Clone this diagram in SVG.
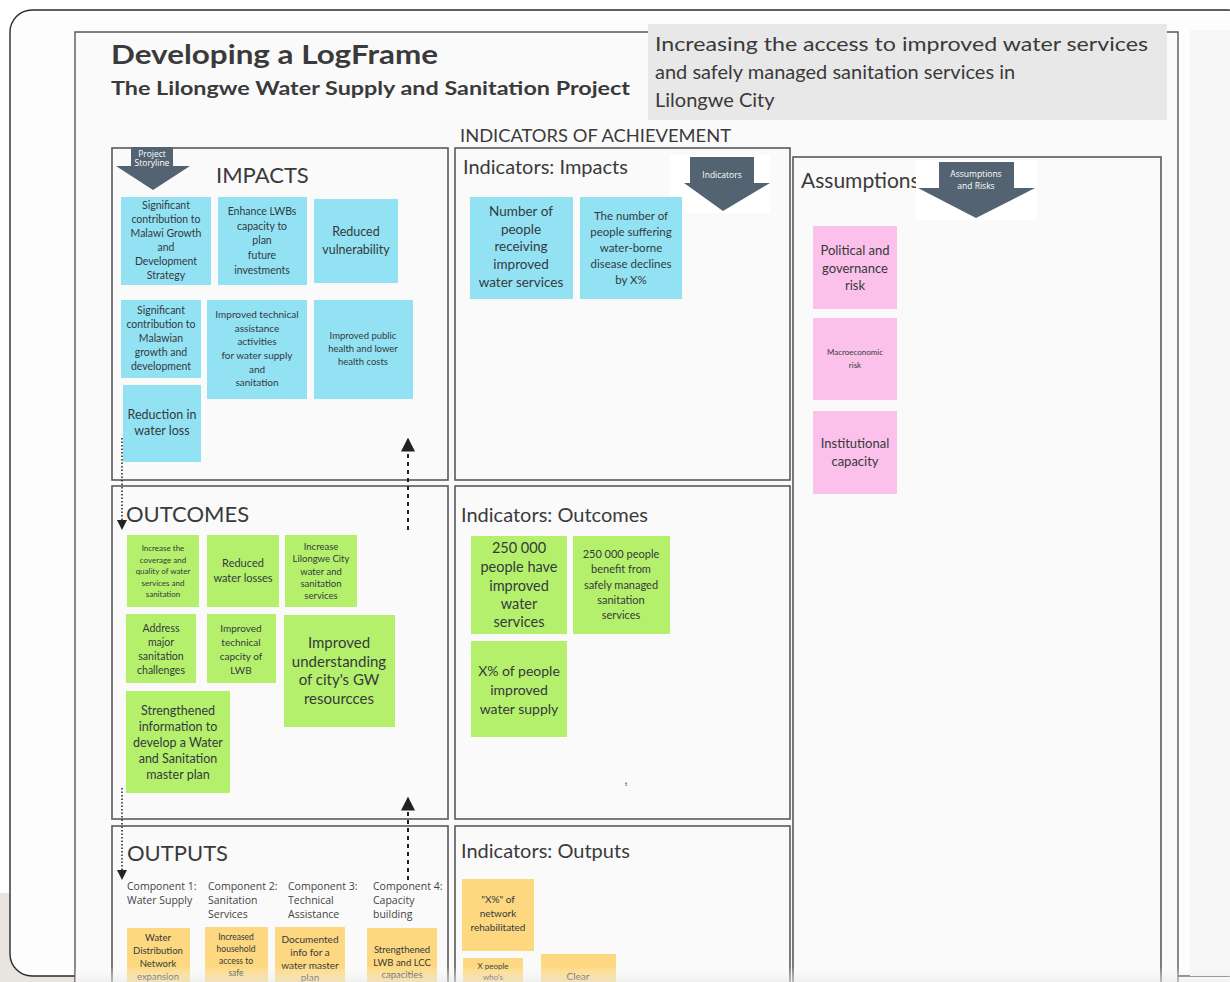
<svg xmlns="http://www.w3.org/2000/svg" width="1230" height="982" viewBox="0 0 1230 982">
  <defs>
    <style>
      .frame { fill: #fafafa; stroke: #5a5a5a; stroke-width: 1.6; }
      .head { font-family: Lato, "Open Sans", "Liberation Sans", sans-serif; fill: #3a3a3a; }
      .sec { font-size: 22px; font-weight: 400; }
      .ind { font-size: 20px; font-weight: 400; }
      .note { font-family: Lato, "Open Sans", "Liberation Sans", sans-serif; fill: #343a3c; text-anchor: middle; }
      .cyan { fill: #92e2f4; }
      .green { fill: #b5f06d; }
      .pink { fill: #fcc1ea; }
      .yellow { fill: #fdd880; }
      .tag { fill: #536371; }
      .tagtxt { font-family: "Open Sans", "Liberation Sans", sans-serif; fill: #ffffff; text-anchor: middle; font-size: 8.5px; }
      .comp { font-family: "Open Sans", "Liberation Sans", sans-serif; fill: #444; font-size: 10.5px; }
      .dot { stroke: #222; stroke-width: 1.5; stroke-dasharray: 1.5 2; fill: none; }
      .dash { stroke: #222; stroke-width: 2; stroke-dasharray: 4 4; fill: none; }
    </style>
    <marker id="head" viewBox="0 0 10 10" refX="9" refY="5" markerWidth="7" markerHeight="7" orient="auto-start-reverse">
      <path d="M0,0 L10,5 L0,10 z" fill="#222"/>
    </marker>
    <linearGradient id="shade" x1="0" y1="0" x2="0" y2="1">
      <stop offset="0" stop-color="#ffffff" stop-opacity="0"/>
      <stop offset="1" stop-color="#e6e6e6"/>
    </linearGradient>
  </defs>

  <!-- page and window -->
  <rect x="0" y="0" width="1230" height="982" fill="#ffffff"/>
  <rect x="0" y="893" width="75" height="89" fill="#e7e5de"/>
  <rect x="10" y="10" width="1240" height="966" rx="22" fill="#fdfdfd" stroke="#2b2b2b" stroke-width="1.4"/>
  <rect x="1190" y="30" width="40" height="946" fill="#f6f6f6"/>

  <!-- slide frame -->
  <rect x="75" y="32" width="1103" height="980" fill="#fafafa"/>
  <path d="M75,1000 V32 H648 M1167,32 H1178 V1000" fill="none" stroke="#555" stroke-width="1.4"/>

  <!-- title block -->
  <g id="title">
    <text x="111" y="64" class="head" font-size="27" font-weight="700" fill="#1e1e1e" textLength="327" lengthAdjust="spacingAndGlyphs">Developing a LogFrame</text>
    <text x="111" y="95" class="head" font-size="19" font-weight="700" fill="#1e1e1e" textLength="519" lengthAdjust="spacingAndGlyphs">The Lilongwe Water Supply and Sanitation Project</text>
  </g>

  <g id="goal">
    <rect x="648" y="24" width="519" height="96" fill="#e8e8e8"/>
    <text class="head" font-size="20" fill="#474747">
      <tspan x="655" y="51" textLength="493" lengthAdjust="spacingAndGlyphs">Increasing the access to improved water services</tspan>
      <tspan x="655" y="79">and safely managed sanitation services in</tspan>
      <tspan x="655" y="107">Lilongwe City</tspan>
    </text>
  </g>

  <text x="460" y="142" class="head" font-size="17" fill="#333" textLength="271" lengthAdjust="spacingAndGlyphs">INDICATORS OF ACHIEVEMENT</text>

  <!-- section frames -->
  <g id="impacts">
    <rect class="frame" x="112" y="148" width="336" height="332"/>
    <path class="tag" d="M131,147 H173 V166 H190 L153,190 L116,166 H131 Z"/>
    <text class="tagtxt" font-size="6"><tspan x="152" y="157">Project</tspan><tspan x="152" y="166">Storyline</tspan></text>
    <text x="216" y="183" class="head sec">IMPACTS</text>
  </g>
  <g id="ind-impacts">
    <rect class="frame" x="455" y="148" width="335" height="332"/>
    <text x="463" y="174" class="head ind">Indicators: Impacts</text>
    <rect x="670" y="155" width="100" height="58" fill="#ffffff"/>
    <path class="tag" d="M690,157 H754 V183 H770 L723,211 L684,183 H690 Z"/>
    <text class="tagtxt" x="722" y="178" font-size="9">Indicators</text>
  </g>
  <g id="assumptions">
    <rect class="frame" x="793" y="157" width="368" height="850"/>
    <text x="801" y="188" class="head" font-size="21">Assumptions</text>
    <rect x="916" y="160" width="121" height="60" fill="#ffffff"/>
    <path class="tag" d="M939,162 H1014 V188 H1035 L976,218 L918,188 H939 Z"/>
    <text class="tagtxt" font-size="9.5"><tspan x="976" y="177">Assumptions</tspan><tspan x="976" y="189">and Risks</tspan></text>
  </g>
  <g id="outcomes">
    <rect class="frame" x="112" y="486" width="336" height="333"/>
    <text x="126" y="522" class="head sec">OUTCOMES</text>
  </g>
  <g id="ind-outcomes">
    <rect class="frame" x="455" y="486" width="335" height="333"/>
    <text x="461" y="522" class="head ind">Indicators: Outcomes</text>
    <text x="626" y="786" class="note" font-size="6" fill="#999">t</text>
  </g>
  <g id="outputs">
    <rect class="frame" x="112" y="826" width="336" height="180"/>
    <text x="127" y="861" class="head sec">OUTPUTS</text>
    <text class="comp"><tspan x="127" y="890">Component 1:</tspan><tspan x="127" y="904">Water Supply</tspan></text>
    <text class="comp"><tspan x="208" y="890">Component 2:</tspan><tspan x="208" y="904">Sanitation</tspan><tspan x="208" y="918">Services</tspan></text>
    <text class="comp"><tspan x="288" y="890">Component 3:</tspan><tspan x="288" y="904">Technical</tspan><tspan x="288" y="918">Assistance</tspan></text>
    <text class="comp"><tspan x="373" y="890">Component 4:</tspan><tspan x="373" y="904">Capacity</tspan><tspan x="373" y="918">building</tspan></text>
  </g>
  <g id="ind-outputs">
    <rect class="frame" x="455" y="826" width="335" height="180"/>
    <text x="461" y="858" class="head ind">Indicators: Outputs</text>
  </g>

  <!-- impact notes -->
  <g id="imp-1"><rect class="cyan" x="121" y="197" width="90" height="88"/>
    <text class="note" font-size="10.5"><tspan x="166" y="209">Significant</tspan><tspan x="166" y="223">contribution to</tspan><tspan x="166" y="237">Malawi Growth</tspan><tspan x="166" y="251">and</tspan><tspan x="166" y="265">Development</tspan><tspan x="166" y="279">Strategy</tspan></text></g>
  <g id="imp-2"><rect class="cyan" x="218" y="197" width="89" height="88"/>
    <text class="note" font-size="10.5"><tspan x="262" y="215">Enhance LWBs</tspan><tspan x="262" y="230">capacity to</tspan><tspan x="262" y="244">plan</tspan><tspan x="262" y="259">future</tspan><tspan x="262" y="274">investments</tspan></text></g>
  <g id="imp-3"><rect class="cyan" x="314" y="199" width="84" height="84"/>
    <text class="note" font-size="12.5"><tspan x="356" y="236">Reduced</tspan><tspan x="356" y="254">vulnerability</tspan></text></g>
  <g id="imp-4"><rect class="cyan" x="121" y="300" width="80" height="78"/>
    <text class="note" font-size="10.5"><tspan x="161" y="314">Significant</tspan><tspan x="161" y="328">contribution to</tspan><tspan x="161" y="342">Malawian</tspan><tspan x="161" y="356">growth and</tspan><tspan x="161" y="370">development</tspan></text></g>
  <g id="imp-5"><rect class="cyan" x="207" y="300" width="100" height="99"/>
    <text class="note" font-size="10"><tspan x="257" y="318">Improved technical</tspan><tspan x="257" y="332">assistance</tspan><tspan x="257" y="345">activities</tspan><tspan x="257" y="359">for water supply</tspan><tspan x="257" y="373">and</tspan><tspan x="257" y="386">sanitation</tspan></text></g>
  <g id="imp-6"><rect class="cyan" x="314" y="300" width="99" height="99"/>
    <text class="note" font-size="9.5"><tspan x="363" y="339">Improved public</tspan><tspan x="363" y="352">health and lower</tspan><tspan x="363" y="365">health costs</tspan></text></g>
  <g id="imp-7"><rect class="cyan" x="123" y="385" width="78" height="77"/>
    <text class="note" font-size="12.5"><tspan x="162" y="419">Reduction in</tspan><tspan x="162" y="435">water loss</tspan></text></g>

  <!-- impact indicator notes -->
  <g id="ii-1"><rect class="cyan" x="470" y="197" width="103" height="102"/>
    <text class="note" font-size="13.5"><tspan x="521" y="216">Number of</tspan><tspan x="521" y="234">people</tspan><tspan x="521" y="251">receiving</tspan><tspan x="521" y="269">improved</tspan><tspan x="521" y="287">water services</tspan></text></g>
  <g id="ii-2"><rect class="cyan" x="580" y="197" width="102" height="102"/>
    <text class="note" font-size="11.5"><tspan x="631" y="220">The number of</tspan><tspan x="631" y="236">people suffering</tspan><tspan x="631" y="252">water-borne</tspan><tspan x="631" y="268">disease declines</tspan><tspan x="631" y="284">by  X%</tspan></text></g>

  <!-- assumption notes -->
  <g id="as-1"><rect class="pink" x="813" y="226" width="84" height="83"/>
    <text class="note" font-size="13" fill="#4a2f44"><tspan x="855" y="255">Political and</tspan><tspan x="855" y="273">governance</tspan><tspan x="855" y="290">risk</tspan></text></g>
  <g id="as-2"><rect class="pink" x="813" y="318" width="84" height="82"/>
    <text class="note" font-size="8" fill="#5a3a52"><tspan x="855" y="355">Macroeconomic</tspan><tspan x="855" y="368">risk</tspan></text></g>
  <g id="as-3"><rect class="pink" x="813" y="411" width="84" height="83"/>
    <text class="note" font-size="13" fill="#4a2f44"><tspan x="855" y="448">Institutional</tspan><tspan x="855" y="466">capacity</tspan></text></g>

  <!-- outcome notes -->
  <g id="out-1"><rect class="green" x="127" y="535" width="72" height="72"/>
    <text class="note" font-size="8" fill="#6d8656"><tspan x="163" y="551">Increase the</tspan><tspan x="163" y="563">coverage and</tspan><tspan x="163" y="574">quality of water</tspan><tspan x="163" y="586">services and</tspan><tspan x="163" y="597">sanitation</tspan></text></g>
  <g id="out-2"><rect class="green" x="207" y="535" width="72" height="72"/>
    <text class="note" font-size="11"><tspan x="243" y="567">Reduced</tspan><tspan x="243" y="582">water losses</tspan></text></g>
  <g id="out-3"><rect class="green" x="285" y="535" width="72" height="72"/>
    <text class="note" font-size="9.5"><tspan x="321" y="550">Increase</tspan><tspan x="321" y="562">Lilongwe City</tspan><tspan x="321" y="575">water and</tspan><tspan x="321" y="587">sanitation</tspan><tspan x="321" y="599">services</tspan></text></g>
  <g id="out-4"><rect class="green" x="126" y="614" width="70" height="69"/>
    <text class="note" font-size="10.5"><tspan x="161" y="632">Address</tspan><tspan x="161" y="646">major</tspan><tspan x="161" y="660">sanitation</tspan><tspan x="161" y="674">challenges</tspan></text></g>
  <g id="out-5"><rect class="green" x="207" y="614" width="69" height="69"/>
    <text class="note" font-size="10"><tspan x="241" y="632">Improved</tspan><tspan x="241" y="646">technical</tspan><tspan x="241" y="660">capcity of</tspan><tspan x="241" y="674">LWB</tspan></text></g>
  <g id="out-6"><rect class="green" x="284" y="615" width="111" height="112"/>
    <text class="note" font-size="15"><tspan x="339" y="648">Improved</tspan><tspan x="339" y="667">understanding</tspan><tspan x="339" y="685">of city's GW</tspan><tspan x="339" y="704">resourcces</tspan></text></g>
  <g id="out-7"><rect class="green" x="126" y="691" width="104" height="102"/>
    <text class="note" font-size="12.5"><tspan x="178" y="715">Strengthened</tspan><tspan x="178" y="731">information to</tspan><tspan x="178" y="747">develop a Water</tspan><tspan x="178" y="763">and Sanitation</tspan><tspan x="178" y="779">master plan</tspan></text></g>

  <!-- outcome indicator notes -->
  <g id="io-1"><rect class="green" x="471" y="536" width="96" height="98"/>
    <text class="note" font-size="14.5"><tspan x="519" y="553">250 000</tspan><tspan x="519" y="572">people have</tspan><tspan x="519" y="591">improved</tspan><tspan x="519" y="609">water</tspan><tspan x="519" y="627">services</tspan></text></g>
  <g id="io-2"><rect class="green" x="573" y="536" width="97" height="98"/>
    <text class="note" font-size="11"><tspan x="621" y="558">250 000 people</tspan><tspan x="621" y="573">benefit from</tspan><tspan x="621" y="589">safely managed</tspan><tspan x="621" y="604">sanitation</tspan><tspan x="621" y="619">services</tspan></text></g>
  <g id="io-3"><rect class="green" x="471" y="641" width="96" height="96"/>
    <text class="note" font-size="14"><tspan x="519" y="676">X% of people</tspan><tspan x="519" y="695">improved</tspan><tspan x="519" y="714">water supply</tspan></text></g>

  <!-- output notes -->
  <g id="op-1"><rect class="yellow" x="127" y="928" width="63" height="60"/>
    <text class="note" font-size="9.5"><tspan x="158" y="941">Water</tspan><tspan x="158" y="954">Distribution</tspan><tspan x="158" y="967">Network</tspan><tspan x="158" y="980">expansion</tspan></text></g>
  <g id="op-2"><rect class="yellow" x="205" y="927" width="63" height="60"/>
    <text class="note" font-size="8.5" fill="#a58c5a"><tspan x="236" y="940">Increased</tspan><tspan x="236" y="952">household</tspan><tspan x="236" y="964">access to</tspan><tspan x="236" y="976">safe</tspan></text></g>
  <g id="op-3"><rect class="yellow" x="275" y="927" width="70" height="60"/>
    <text class="note" font-size="10"><tspan x="310" y="943">Documented</tspan><tspan x="310" y="956">info for a</tspan><tspan x="310" y="969">water master</tspan><tspan x="310" y="981">plan</tspan></text></g>
  <g id="op-4"><rect class="yellow" x="367" y="928" width="70" height="60"/>
    <text class="note" font-size="9.5"><tspan x="402" y="953">Strengthened</tspan><tspan x="402" y="966">LWB and LCC</tspan><tspan x="402" y="978">capacities</tspan></text></g>

  <!-- output indicator notes -->
  <g id="iy-1"><rect class="yellow" x="462" y="879" width="72" height="72"/>
    <text class="note" font-size="10"><tspan x="498" y="903">"X%" of</tspan><tspan x="498" y="917">network</tspan><tspan x="498" y="931">rehabilitated</tspan></text></g>
  <g id="iy-2"><rect class="yellow" x="463" y="958" width="60" height="30"/>
    <text class="note" font-size="8" fill="#8c7a55"><tspan x="493" y="969">X people</tspan><tspan x="493" y="980">who's</tspan></text></g>
  <g id="iy-3"><rect class="yellow" x="541" y="954" width="75" height="34"/>
    <text class="note" font-size="10"><tspan x="578" y="980">Clear</tspan></text></g>

  <!-- storyline connectors -->
  <g id="connectors">
    <line class="dot" x1="122" y1="438" x2="122" y2="529" marker-end="url(#head)"/>
    <line class="dash" x1="408" y1="530" x2="408" y2="439" marker-end="url(#head)"/>
    <line class="dot" x1="122" y1="788" x2="122" y2="879" marker-end="url(#head)"/>
    <line class="dash" x1="408" y1="880" x2="408" y2="798" marker-end="url(#head)"/>
  </g>

  <!-- bottom edge shading -->
  <rect x="75" y="966" width="1155" height="16" fill="url(#shade)" opacity="0.6"/>
</svg>
